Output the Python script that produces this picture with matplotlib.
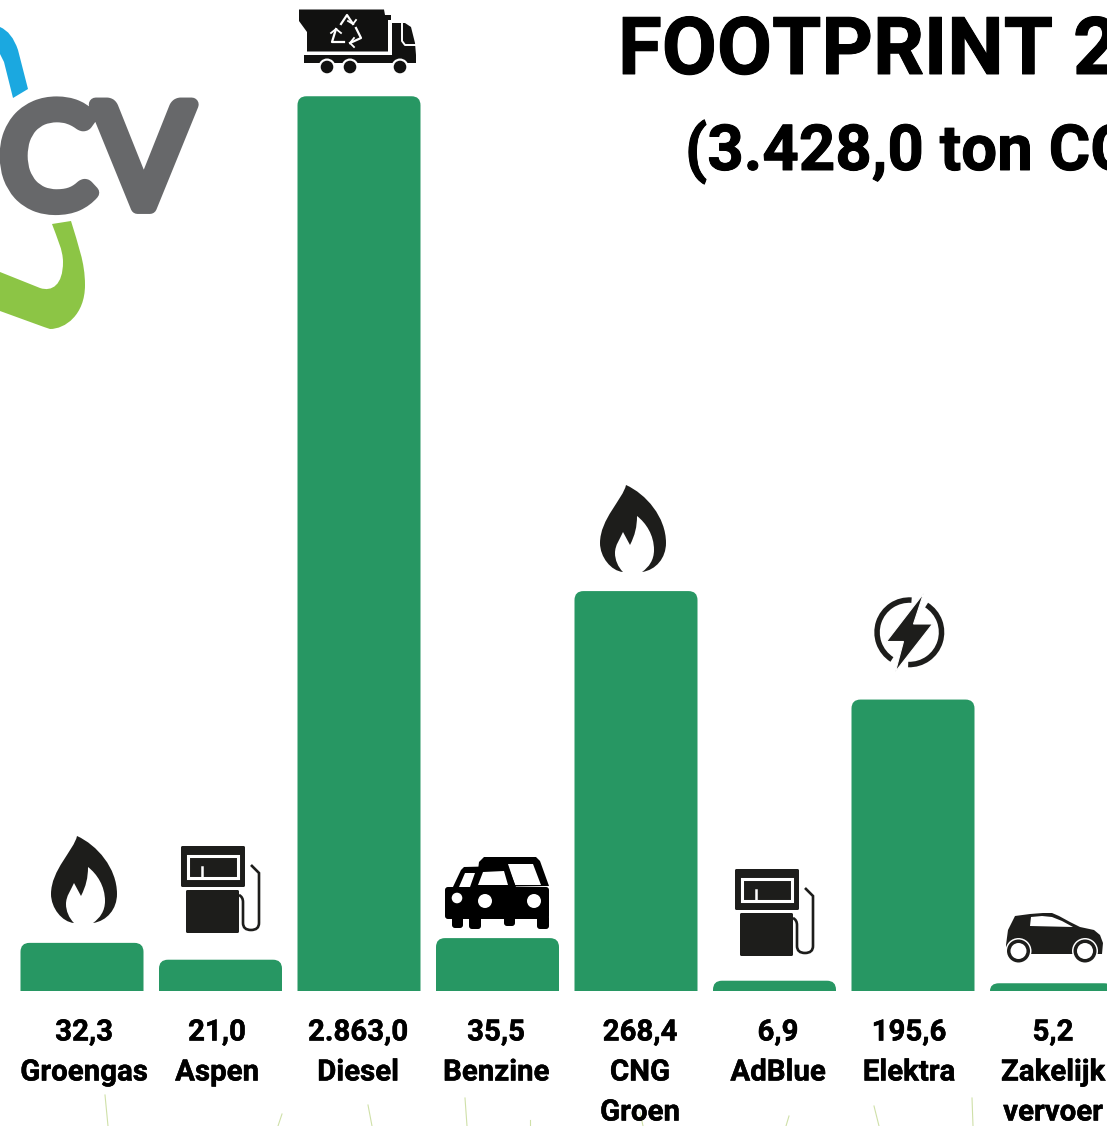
import matplotlib
matplotlib.use("Agg")
import matplotlib.pyplot as plt
import matplotlib.patheffects as pe
from matplotlib.path import Path
from matplotlib.patches import PathPatch, Polygon, Circle, Wedge, Rectangle, FancyBboxPatch

# values printed under the bars
categories = [["Groengas"], ["Aspen"], ["Diesel"], ["Benzine"],
              ["CNG", "Groen"], ["AdBlue"], ["Elektra"], ["Zakelijk", "vervoer"]]
value_labels = ["32,3", "21,0", "2.863,0", "35,5", "268,4", "6,9", "195,6", "5,2"]
# bar heights as drawn: the Diesel bar is cut off in the source, so not 2863
bar_heights = [32.3, 21.0, 600.5, 35.5, 268.4, 6.9, 195.6, 5.2]
label_centers = [84, 217, 358, 496, 640, 778, 909, 1053]

title = "FOOTPRINT 2"
subtitle = "(3.428,0 ton CO"

GREEN = "#279763"
DARK = "#1d1d1b"
FONT = "Roboto"

W, H = 1107, 1126
PX_PER_UNIT = 1.49
BAR_STEP = 138.5
BAR_W = 123 / BAR_STEP
X0_PX = 82
BASE_PX = 991
RADIUS_PX = 9


def rounded_bar(ax, x, height):
    # bar with only the two top corners rounded
    rx = RADIUS_PX / BAR_STEP
    ry = min(RADIUS_PX / PX_PER_UNIT, height)
    l, r = x - BAR_W / 2, x + BAR_W / 2
    verts = [(l, 0), (l, height - ry), (l, height), (l + rx, height),
             (r - rx, height), (r, height), (r, height - ry), (r, 0), (l, 0)]
    codes = [Path.MOVETO, Path.LINETO, Path.CURVE3, Path.CURVE3,
             Path.LINETO, Path.CURVE3, Path.CURVE3, Path.LINETO, Path.CLOSEPOLY]
    ax.add_patch(PathPatch(Path(verts, codes), fc=GREEN, ec="none"))


def flame(ax, cx, top):
    # offsets from the tip, round the left side and through the inner white flame
    pts = [(0, 0),
           (-3, 14), (-26, 34), (-26, 58),
           (-26, 72), (-15, 86), (-3, 87),
           (-8, 82), (-11, 75), (-11, 68),
           (-11, 60), (-6, 54), (-3, 47),
           (4, 60),
           (9, 50), (11, 42), (11, 31),
           (20, 38), (28, 50), (28, 65),
           (28, 75), (23, 82), (16, 87),
           (30, 85), (40, 73), (40, 58),
           (40, 32), (20, 9), (0, 0)]
    c4 = [Path.CURVE4] * 3
    codes = [Path.MOVETO] + c4 * 4 + [Path.LINETO] + c4 * 5
    verts = [(cx + x - 7, top + y) for x, y in pts]
    ax.add_patch(PathPatch(Path(verts, codes), fc=DARK, ec="none"))


def pump(ax, dx, dy):
    ax.add_patch(FancyBboxPatch((181 + dx, 846 + dy), 64, 41, boxstyle="round,pad=0,rounding_size=1.5", fc=DARK, ec="none"))
    ax.add_patch(Rectangle((188 + dx, 856 + dy), 50, 22, fc="none", ec="white", lw=2.2))
    ax.plot([202 + dx, 202 + dx], [867 + dy, 878 + dy], color="white", lw=1.8)
    ax.add_patch(FancyBboxPatch((186 + dx, 890 + dy), 53, 43, boxstyle="round,pad=0,rounding_size=1.5", fc=DARK, ec="none"))
    hose = Path([(239 + dx, 895 + dy), (243 + dx, 897 + dy), (243 + dx, 902 + dy), (243 + dx, 923 + dy),
                 (243 + dx, 930 + dy), (251 + dx, 930 + dy), (259 + dx, 930 + dy), (259 + dx, 923 + dy),
                 (259 + dx, 873 + dy), (251 + dx, 865 + dy)],
                [Path.MOVETO, Path.CURVE3, Path.CURVE3, Path.LINETO, Path.CURVE3, Path.CURVE3, Path.CURVE3,
                 Path.CURVE3, Path.LINETO, Path.LINETO])
    ax.add_patch(PathPatch(hose, fc="none", ec=DARK, lw=1.9))


def front_car(ax):
    black = "#000000"
    # rear car roof, then left car roof, then body and wheels
    ax.add_patch(Polygon([(476, 887), (479, 862), (484, 857), (536, 857), (540, 861), (549, 886)], fc=black, ec="none"))
    ax.add_patch(Polygon([(515, 885), (508, 864), (533, 864), (541, 885)], fc="white", ec="none"))
    ax.add_patch(Polygon([(452, 889), (461, 870), (464, 867), (505, 866), (509, 869), (516, 887)], fc=black, ec="none"))
    ax.add_patch(Polygon([(459, 887), (465, 873), (475, 873), (470, 887)], fc="white", ec="none"))
    ax.add_patch(Polygon([(478, 885), (483, 872), (504, 871), (508, 885)], fc="white", ec="none"))
    ax.add_patch(FancyBboxPatch((445, 887), 104, 32, boxstyle="round,pad=0,rounding_size=3", fc=black, ec="none"))
    for x0, x1, bottom in [(452, 463, 928), (469, 481, 929), (504, 515, 926), (537, 549, 929)]:
        ax.add_patch(FancyBboxPatch((x0, 915), x1 - x0, bottom - 915, boxstyle="round,pad=0,rounding_size=3", fc=black, ec="none"))
    for cx, cy, r in [(457, 898, 5.3), (485, 901, 7), (534, 901, 7)]:
        ax.add_patch(Circle((cx, cy), r, fc="white", ec="none"))


def hatchback(ax):
    verts = [(1006, 945), (1008, 930), (1015, 916), (1030, 914), (1043, 913), (1052, 913), (1059, 916),
             (1070, 922), (1080, 927), (1094, 930), (1100, 935), (1103, 943), (1102, 954), (1006, 954), (1006, 945)]
    ax.add_patch(Polygon(verts, fc=DARK, ec="none"))
    ax.add_patch(Polygon([(1031, 917), (1030, 926), (1073, 927), (1062, 921), (1052, 917), (1042, 916)], fc="white", ec="none"))
    for cx in (1018.5, 1085):
        ax.add_patch(Circle((cx, 951), 13, fc="white", ec="none"))
        ax.add_patch(Circle((cx, 951), 11.5, fc=DARK, ec="none"))
        ax.add_patch(Circle((cx, 951), 8, fc="white", ec="none"))


def bolt(ax):
    cx, cy = 909.3, 632.3
    ax.add_patch(Wedge((cx, cy), 35, 122.6, 274, width=5.5, fc=DARK, ec="none"))
    ax.add_patch(Wedge((cx, cy), 35, -57.6, 92, width=5.5, fc=DARK, ec="none"))
    ax.add_patch(Polygon([(923.5, 593.5), (913.5, 624), (932.5, 624), (895.5, 671.5),
                          (903.5, 641.5), (886.5, 641.5)], fc=DARK, ec="white", lw=0.8))


def truck(ax):
    black = "#111110"
    ax.add_patch(Polygon([(299, 9.5), (384, 9.5), (385, 15), (391, 15), (391, 20), (388, 20), (388, 51.5),
                          (307, 51.5), (307, 32), (299, 21)], fc=black, ec="none"))
    ax.add_patch(Polygon([(392, 23), (405, 23), (411, 27), (415, 43), (416, 55), (392, 55)], fc=black, ec="none"))
    ax.plot([402, 402, 405, 416], [24, 41, 45, 45], color="white", lw=1.4)
    ax.add_patch(Rectangle((304, 55), 112, 8, fc=black, ec="none"))
    for cx in (327, 350, 400):
        ax.add_patch(Circle((cx, 67), 8.5, fc="white", ec="none"))
        ax.add_patch(Circle((cx, 67), 6.3, fc=black, ec="none"))
    # recycling arrows
    loops = [[(341, 24), (347, 15), (353, 24)], [(356, 28), (361, 38), (350, 43)], [(344, 42), (332, 42), (336, 29)]]
    for pts in loops:
        ax.plot([p[0] for p in pts], [p[1] for p in pts], color="white", lw=1.6, solid_joinstyle="round")
    for tip in [((353, 24), (356, 20), (348, 21)), ((350, 43), (354, 38), (354, 47)), ((336, 29), (331, 33), (341, 33))]:
        ax.plot([tip[1][0], tip[0][0], tip[2][0]], [tip[1][1], tip[0][1], tip[2][1]], color="white", lw=1.3)


def logo(ax):
    blue = Path([(0, 27), (12, 32), (18, 50), (28, 89), (13, 98), (8, 78), (4, 62), (0, 54), (0, 27)],
                [Path.MOVETO, Path.CURVE3, Path.CURVE3, Path.LINETO, Path.LINETO, Path.CURVE3, Path.CURVE3, Path.LINETO, Path.CLOSEPOLY])
    ax.add_patch(PathPatch(blue, fc="#1ba8e0", ec="none"))
    green = Path([(52, 224), (71, 221),
                  (78, 245), (85, 262), (85, 285),
                  (85, 315), (65, 329), (50, 329),
                  (44, 327), (0, 311), (0, 272), (40, 288),
                  (52, 292), (63, 285), (63, 262),
                  (63, 250), (57, 238), (52, 224)],
                 [Path.MOVETO, Path.LINETO, Path.CURVE4, Path.CURVE4, Path.CURVE4, Path.CURVE4, Path.CURVE4, Path.CURVE4,
                  Path.LINETO, Path.LINETO, Path.LINETO, Path.LINETO,
                  Path.CURVE4, Path.CURVE4, Path.CURVE4, Path.CURVE4, Path.CURVE4, Path.CURVE4])
    ax.add_patch(PathPatch(green, fc="#8cc545", ec="none"))
    # Lato only comes in a light weight here, so thicken it with a stroke
    ax.text(192, 207, "CV", family="Lato", fontsize=103, color="#67686a", ha="right", va="baseline",
            path_effects=[pe.withStroke(linewidth=10, foreground="#67686a")])


def grass(ax):
    blades = [(105, 1095, 108, 1126), (278, 1126, 282, 1114), (368, 1105, 372, 1126), (465, 1098, 467, 1126),
              (530, 1120, 530, 1126), (640, 1112, 643, 1126), (786, 1126, 789, 1116), (874, 1106, 879, 1126),
              (972, 1098, 973, 1126)]
    for x0, y0, x1, y1 in blades:
        ax.plot([x0, x1], [y0, y1], color="#cfe0a8", lw=0.8)


fig = plt.figure(figsize=(W / 100, H / 100), dpi=100, facecolor="white")

# bars in their own axes, y scale taken from the labelled values
ax = fig.add_axes([0, 0, 1, 1])
ax.set_xlim(-X0_PX / BAR_STEP, (W - X0_PX) / BAR_STEP)
ax.set_ylim(-(H - BASE_PX) / PX_PER_UNIT, BASE_PX / PX_PER_UNIT)
ax.axis("off")
for i, h in enumerate(bar_heights):
    rounded_bar(ax, i, h)

# icons and text on top, in pixel coordinates
top = fig.add_axes([0, 0, 1, 1])
top.set_xlim(0, W)
top.set_ylim(H, 0)
top.axis("off")
top.patch.set_alpha(0)

grass(top)
logo(top)
truck(top)
flame(top, 84, 836)
flame(top, 633, 485)
pump(top, 0, 0)
pump(top, 554, 23)
front_car(top)
bolt(top)
hatchback(top)

heavy = [pe.withStroke(linewidth=0.7, foreground="black")]
top.text(618, 74, title, family=FONT, fontweight="bold", fontsize=57.5, color="black", ha="left", va="baseline",
         path_effects=heavy)
top.text(685, 170, subtitle, family=FONT, fontweight="bold", fontsize=45.8, color="black", ha="left", va="baseline",
         path_effects=heavy)

for cx, value, cat in zip(label_centers, value_labels, categories):
    lines = [value] + cat
    for n, line in enumerate(lines):
        top.text(cx, 1029.5 + 40 * n, line, family=FONT, fontweight="bold", fontsize=21.2,
                 color="black", ha="center", va="center_baseline",
                 path_effects=[pe.withStroke(linewidth=0.35, foreground="black")])

fig.savefig("out.png", dpi=100, facecolor="white")
